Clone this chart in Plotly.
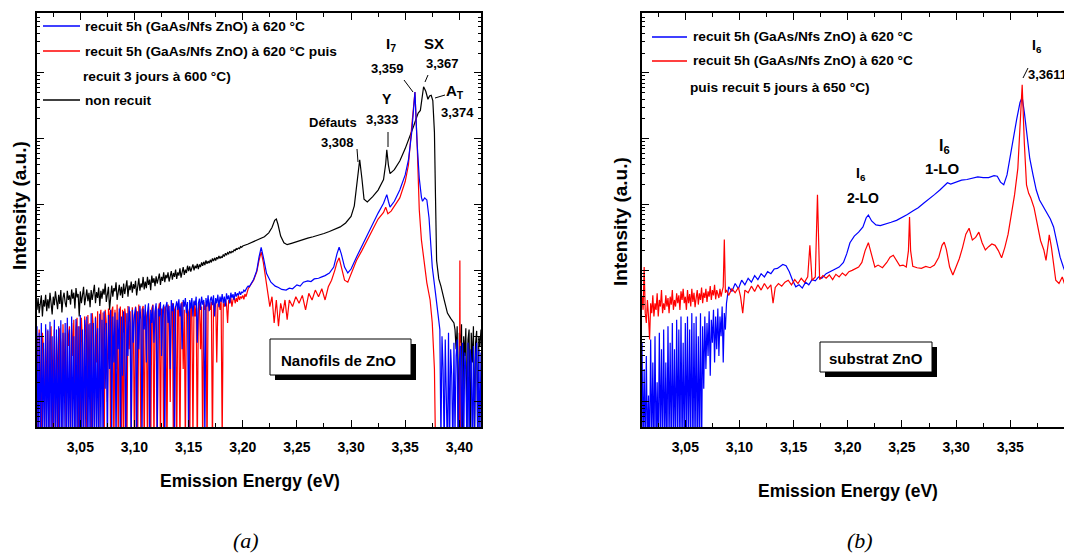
import numpy as np
import plotly.graph_objects as go
from plotly.subplots import make_subplots

# page offset: the browser places the plot 8 px from the top-left corner
OFF = 8
W, H = 1072 - OFF, 553 - OFF

# ---------------- Panel (a) : ZnO nanowires ----------------
# noisy low-energy part, sampled every 1 meV starting at 3.010 eV (values = log10 intensity)
a_noise_E0, a_noise_step = 3.010, 0.001
a_black_noise = [2.40, 2.58, 2.35, 2.52, 2.62, 2.30, 2.55, 2.45, 2.63, 2.38,
                 2.56, 2.42, 2.66, 2.50, 2.33, 2.60, 2.47, 2.68, 2.52, 2.41,
                 2.63, 2.49, 2.70, 2.36, 2.58, 2.66, 2.51, 2.44, 2.69, 2.55,
                 2.62, 2.48, 2.71, 2.57, 2.66, 2.42, 2.73, 2.59, 2.64, 2.30,
                 2.68, 2.50, 2.62, 2.75, 2.47, 2.60, 2.71, 2.53, 2.66, 2.44,
                 2.70, 2.55, 2.64, 2.78, 2.50, 2.67, 2.58, 2.74, 2.46, 2.69,
                 2.57, 2.72, 2.63, 2.80, 2.52, 2.69, 2.75, 2.40, 2.66, 2.77,
                 2.60, 2.73, 2.68, 2.82, 2.55, 2.71, 2.78, 2.62, 2.75, 2.58,
                 2.80, 2.64, 2.74, 2.85, 2.60, 2.77, 2.70, 2.83, 2.66, 2.79,
                 2.72, 2.84, 2.62, 2.78, 2.88, 2.69, 2.80, 2.74, 2.90, 2.71,
                 2.83, 2.73, 2.90, 2.78, 2.86, 2.70, 2.92, 2.81, 2.88, 2.76,
                 2.91, 2.80, 2.87, 2.95, 2.78, 2.90, 2.84, 2.97, 2.82, 2.93,
                 2.88, 2.97, 2.83, 2.94, 2.99, 2.86, 2.96, 2.90, 3.01, 2.87,
                 2.97, 2.92, 3.03, 2.89, 2.99, 3.05, 2.93, 3.01, 2.96, 3.07,
                 2.99, 3.06, 2.98, 3.04, 3.09, 3.00, 3.07, 3.03, 3.10, 3.02,
                 3.09, 3.05, 3.12, 3.07, 3.13, 3.08, 3.15, 3.10, 3.14, 3.11,
                 3.16, 3.12, 3.18, 3.14, 3.19, 3.15, 3.20, 3.17, 3.22, 3.18,
                 3.21, 3.19, 3.24, 3.21, 3.26, 3.23, 3.27, 3.25, 3.29, 3.26,
                 3.29, 3.28, 3.31, 3.30, 3.33, 3.32, 3.34, 3.33, 3.36, 3.35, 3.37]
a_blue_noise = [2.15, 0.3, 2.05, 0.2, 2.20, 0.5, 1.9, 0.2, 2.18, 0.3,
                2.10, 0.2, 2.22, 0.4, 2.0, 0.2, 2.25, 0.3, 2.1, 0.2,
                2.15, 0.3, 2.24, 0.2, 2.05, 0.5, 2.2, 0.2, 2.28, 0.3,
                2.1, 0.2, 2.3, 0.4, 2.0, 0.2, 2.26, 0.3, 2.15, 0.2,
                2.32, 0.3, 2.1, 0.2, 2.25, 0.6, 2.3, 0.2, 2.18, 0.3,
                2.35, 0.2, 2.2, 0.4, 2.28, 0.3, 2.12, 0.2, 2.34, 0.5,
                2.25, 0.3, 2.38, 1.2, 2.2, 0.2, 2.32, 1.5, 2.4, 0.4,
                2.3, 1.6, 2.36, 0.3, 2.25, 1.8, 2.42, 0.2, 2.3, 1.4,
                2.38, 2.0, 0.3, 2.35, 1.7, 2.45, 2.2, 0.4, 2.4, 1.9,
                2.32, 2.44, 0.2, 2.38, 1.8, 2.46, 2.25, 0.5, 2.42, 2.1,
                2.48, 1.6, 2.36, 2.5, 0.3, 2.4, 2.2, 2.47, 1.9, 2.38,
                2.5, 0.4, 2.42, 2.3, 2.52, 1.7, 2.4, 2.48, 0.3, 2.45,
                2.52, 2.2, 2.46, 1.5, 2.55, 2.38, 2.5, 0.3, 2.44, 2.53,
                2.4, 2.56, 2.3, 2.5, 1.8, 2.55, 2.45, 2.58, 2.35, 2.52,
                0.3, 2.55, 2.42, 2.58, 2.3, 2.54, 2.47, 2.6, 1.9, 2.5,
                2.57, 2.4, 2.6, 2.48, 2.55, 0.4, 2.58, 2.45, 2.62, 2.38,
                2.55, 2.6, 2.47, 2.62, 2.3, 2.58, 2.5, 2.63, 2.44, 2.6,
                2.52, 2.64, 2.5, 2.6, 2.45, 2.65, 2.56, 2.62, 2.5, 2.66,
                2.58, 2.64, 2.55, 2.67, 2.6, 2.65, 2.62, 2.68, 2.63, 2.67,
                2.66, 2.70, 2.68, 2.72, 2.74, 2.76]
a_red_noise = [2.0, 0.3, 2.1, 1.5, 0.2, 2.05, 1.8, 0.4, 2.12, 1.0,
               2.08, 0.3, 1.9, 2.15, 0.5, 1.7, 2.1, 0.2, 2.0, 1.6,
               0.3, 2.12, 1.9, 0.4, 2.18, 1.3, 2.05, 0.2, 2.2, 1.85,
               2.15, 0.3, 2.2, 1.7, 2.25, 0.4, 2.1, 2.28, 0.2, 2.15,
               0.3, 2.28, 1.9, 0.2, 2.3, 2.1, 0.4, 2.32, 1.2, 2.2,
               0.2, 2.35, 2.15, 0.5, 2.3, 1.6, 2.38, 0.3, 2.25, 2.4,
               1.4, 2.36, 0.2, 2.4, 2.2, 1.0, 2.42, 2.3, 0.3, 2.38,
               2.45, 0.2, 2.4, 1.5, 2.48, 0.3, 2.35, 2.45, 0.2, 2.4,
               0.3, 2.42, 2.3, 0.2, 2.46, 1.8, 2.38, 0.3, 2.44, 2.2,
               0.2, 2.45, 2.35, 0.4, 2.48, 2.2, 0.3, 2.4, 2.46, 0.2,
               2.4, 2.3, 0.3, 2.45, 2.2, 0.2, 2.42, 2.48, 0.3, 2.35,
               2.45, 0.2, 2.38, 2.5, 0.3, 2.42, 2.3, 0.2, 2.45, 2.4,
               0.3, 2.48, 2.35, 1.0, 2.45, 2.5, 0.2, 2.4, 2.46, 0.3,
               2.5, 2.38, 0.2, 2.45, 2.52, 1.5, 2.4, 0.3, 2.48, 2.42,
               2.35, 0.2, 2.5, 2.45, 0.4, 2.52, 2.3, 2.48, 0.2, 2.42,
               2.5, 1.8, 2.45, 0.3, 2.52, 2.4, 2.48, 0.2, 2.55, 2.45,
               2.4, 2.52, 0.3, 2.5, 2.45, 2.55, 1.6, 2.48, 2.52, 2.4,
               2.55, 0.4, 2.5, 2.45, 2.56, 2.48, 2.2, 2.55, 2.5, 2.58,
               2.45, 2.55, 2.6, 2.5, 2.58, 2.52, 2.62, 2.55, 2.6, 2.58,
               2.62, 2.56, 2.64, 2.6, 2.66]

# peaks region, read point by point (energy eV, log10 intensity)
a_black_E = [3.205, 3.210, 3.215, 3.220, 3.224, 3.227, 3.2295, 3.231, 3.2325, 3.235, 3.238, 3.241,
             3.245, 3.250, 3.255, 3.260, 3.265, 3.270, 3.275, 3.280, 3.285, 3.290, 3.295, 3.300,
             3.303, 3.306, 3.308, 3.310, 3.312, 3.315, 3.320, 3.325, 3.330, 3.332, 3.333, 3.3345,
             3.336, 3.340, 3.345, 3.350, 3.355, 3.358, 3.360, 3.362, 3.364, 3.3655, 3.367, 3.369,
             3.371, 3.3725, 3.374, 3.3755, 3.377, 3.378, 3.379, 3.381, 3.383, 3.386, 3.389, 3.392,
             3.395]
a_black_L = [3.40, 3.44, 3.47, 3.51, 3.57, 3.65, 3.76, 3.78, 3.70, 3.52, 3.42, 3.39,
             3.41, 3.44, 3.46, 3.49, 3.51, 3.53, 3.56, 3.59, 3.62, 3.66, 3.72, 3.82,
             3.98, 4.35, 4.68, 4.40, 4.08, 4.04, 4.12, 4.22, 4.38, 4.62, 4.83, 4.60,
             4.47, 4.53, 4.66, 4.85, 5.05, 5.20, 5.30, 5.39, 5.43, 5.62, 5.79, 5.72,
             5.60, 5.65, 5.66, 5.58, 5.10, 4.10, 3.15, 2.87, 2.76, 2.55, 2.35, 2.27,
             2.20]
a_blue_E = [3.206, 3.210, 3.213, 3.215, 3.217, 3.219, 3.222, 3.226, 3.230, 3.233, 3.236, 3.240,
            3.243, 3.246, 3.250, 3.253, 3.256, 3.260, 3.263, 3.266, 3.270, 3.273, 3.276, 3.280,
            3.284, 3.287, 3.289, 3.291, 3.294, 3.297, 3.300, 3.305, 3.310, 3.315, 3.320, 3.325,
            3.330, 3.333, 3.3345, 3.336, 3.340, 3.345, 3.350, 3.353, 3.356, 3.359, 3.361, 3.363,
            3.365, 3.366, 3.368, 3.370, 3.372, 3.3735, 3.375, 3.378, 3.381]
a_blue_L = [2.75, 2.86, 3.00, 3.20, 3.35, 3.20, 2.95, 2.82, 2.76, 2.74, 2.71, 2.70,
            2.73, 2.72, 2.78, 2.76, 2.82, 2.84, 2.83, 2.87, 2.88, 2.90, 2.92, 2.96,
            3.05, 3.25, 3.35, 3.25, 3.05, 2.96, 3.02, 3.20, 3.37, 3.55, 3.70, 3.87,
            4.02, 4.15, 4.05, 3.96, 4.05, 4.22, 4.45, 4.68, 5.09, 5.71, 4.93, 4.40,
            4.11, 4.05, 4.10, 4.07, 3.80, 3.37, 3.05, 2.65, 2.29]
a_red_E = [3.205, 3.210, 3.213, 3.215, 3.217, 3.219, 3.222, 3.225, 3.227, 3.229, 3.231, 3.233,
           3.235, 3.237, 3.239, 3.241, 3.243, 3.246, 3.249, 3.252, 3.255, 3.258, 3.261, 3.264,
           3.267, 3.270, 3.273, 3.276, 3.279, 3.282, 3.285, 3.287, 3.289, 3.291, 3.294, 3.297,
           3.300, 3.305, 3.310, 3.315, 3.320, 3.325, 3.330, 3.332, 3.334, 3.337, 3.340, 3.345,
           3.350, 3.353, 3.356, 3.359, 3.361, 3.363, 3.365, 3.367, 3.370, 3.373, 3.375, 3.377,
           3.378, 3.400, 3.4005, 3.401, 3.420]
a_red_L = [2.72, 2.85, 2.98, 3.15, 3.28, 3.12, 2.80, 2.45, 2.60, 2.20, 2.55, 2.15,
           2.50, 2.35, 2.55, 2.25, 2.55, 2.45, 2.60, 2.50, 2.62, 2.40, 2.65, 2.55,
           2.70, 2.60, 2.72, 2.55, 2.75, 2.85, 3.00, 3.12, 3.19, 3.05, 2.85, 2.82,
           2.95, 3.15, 3.30, 3.45, 3.62, 3.78, 3.88, 3.96, 3.86, 3.90, 3.98, 4.10,
           4.35, 4.60, 5.18, 5.71, 4.93, 3.92, 3.46, 3.20, 2.81, 2.55, 2.20, 1.50,
           0.30, 0.30, 3.15, 0.30, 0.30]

# noisy high-energy tails, every 1 meV
a_black_tail_E0 = 3.396
a_black_tail = [2.10, 1.80, 2.15, 0.40, 2.05, 1.90, 2.18, 0.30, 2.00, 1.70,
                2.12, 0.50, 1.95, 2.10, 0.30, 2.05, 1.60, 2.15, 0.40, 1.90,
                2.08, 0.30, 2.00, 1.85, 2.10]
a_blue_tail_E0 = 3.382
a_blue_tail = [2.10, 0.4, 2.0, 1.5, 0.3, 1.95, 1.2, 0.2, 2.05, 0.3,
               1.8, 1.4, 0.2, 1.9, 0.5, 1.7, 1.95, 0.3, 1.6, 1.85,
               0.4, 1.9, 0.2, 1.75, 1.5, 0.3, 1.9, 0.4, 1.8, 1.6,
               0.2, 1.85, 0.5, 1.7, 1.9, 0.3, 1.8, 0.4, 1.75]

# ---------------- Panel (b) : ZnO substrate ----------------
b_noise_E0, b_noise_step = 3.010, 0.001
b_blue_noise = [1.9, 0.3, 1.5, 0.2, 1.7, 0.3, 1.1, 0.2, 1.95, 0.3,
                1.6, 0.2, 2.0, 0.3, 1.3, 0.2, 2.05, 0.4, 1.8, 0.2,
                2.1, 0.3, 1.6, 0.2, 2.15, 0.4, 1.9, 0.2, 2.2, 0.3,
                1.8, 0.2, 2.25, 0.4, 2.1, 0.2, 2.3, 0.3, 1.9, 0.2,
                2.2, 0.3, 2.3, 0.2, 2.1, 0.4, 2.35, 0.2, 2.2, 0.3,
                2.3, 0.2, 2.0, 0.3, 2.35, 0.2, 2.15, 1.2, 2.3, 1.5,
                2.2, 1.7, 2.38, 1.4, 2.25, 1.9, 2.4, 1.6, 2.3, 1.8,
                2.42, 1.7, 2.3, 2.0, 2.45, 1.6, 2.35, 2.1, 2.5]
b_red_noise = [2.6, 2.4, 3.05, 2.35, 2.2, 2.55, 2.3, 1.95, 2.5, 2.35,
               2.62, 2.3, 2.5, 2.4, 2.65, 2.3, 2.55, 2.45, 2.7, 2.35,
               2.5, 2.4, 2.62, 2.45, 2.58, 2.35, 2.6, 2.48, 2.7, 2.4,
               2.55, 2.45, 2.65, 2.5, 2.62, 2.4, 2.68, 2.55, 2.72, 2.5,
               2.6, 2.4, 2.7, 2.5, 2.64, 2.45, 2.72, 2.52, 2.66, 2.44,
               2.58, 2.7, 2.48, 2.65, 2.55, 2.74, 2.5, 2.66, 2.58, 2.72,
               2.52, 2.68, 2.6, 2.76, 2.55, 2.7, 2.62, 2.78, 2.56, 2.7,
               2.64, 2.58, 2.72, 2.6, 2.68, 2.75, 3.47, 2.66, 2.7]

b_blue_E = [3.090, 3.093, 3.096, 3.099, 3.102, 3.105, 3.108, 3.111, 3.114, 3.117, 3.120, 3.123,
            3.126, 3.129, 3.132, 3.135, 3.138, 3.140, 3.143, 3.146, 3.149, 3.152, 3.155, 3.158,
            3.161, 3.164, 3.167, 3.170, 3.173, 3.176, 3.180, 3.184, 3.188, 3.192, 3.196, 3.199,
            3.202, 3.206, 3.210, 3.214, 3.217, 3.219, 3.222, 3.226, 3.230, 3.235, 3.240, 3.245,
            3.250, 3.255, 3.260, 3.265, 3.270, 3.275, 3.280, 3.285, 3.290, 3.292, 3.295, 3.300,
            3.305, 3.310, 3.315, 3.320, 3.325, 3.330, 3.335, 3.338, 3.341, 3.344, 3.347, 3.350,
            3.353, 3.356, 3.359, 3.361, 3.363, 3.365, 3.368, 3.371, 3.374, 3.377, 3.381, 3.384,
            3.387, 3.390, 3.393, 3.396, 3.399, 3.402, 3.405, 3.407]
b_blue_L = [2.75, 2.68, 2.80, 2.72, 2.85, 2.78, 2.88, 2.82, 2.92, 2.86, 2.95, 2.90,
            2.98, 2.95, 3.02, 3.03, 3.07, 3.09, 3.07, 2.98, 2.85, 2.75, 2.78, 2.73,
            2.82, 2.78, 2.86, 2.84, 2.90, 2.88, 2.95, 2.98, 3.02, 3.05, 3.12, 3.25,
            3.42, 3.52, 3.58, 3.66, 3.80, 3.84, 3.75, 3.69, 3.68, 3.70, 3.73, 3.76,
            3.80, 3.85, 3.90, 3.95, 4.02, 4.08, 4.15, 4.22, 4.30, 4.33, 4.31, 4.34,
            4.37, 4.38, 4.40, 4.42, 4.41, 4.41, 4.44, 4.43, 4.34, 4.30, 4.45, 4.75,
            5.05, 5.30, 5.55, 5.63, 5.40, 5.10, 4.70, 4.45, 4.22, 4.07, 3.95, 3.87,
            3.78, 3.66, 3.45, 3.20, 3.05, 2.93, 2.80, 2.70]
b_red_E = [3.090, 3.093, 3.096, 3.099, 3.101, 3.103, 3.105, 3.108, 3.111, 3.114, 3.117, 3.120,
           3.123, 3.126, 3.129, 3.131, 3.133, 3.136, 3.139, 3.142, 3.145, 3.148, 3.151, 3.154,
           3.157, 3.160, 3.163, 3.165, 3.167, 3.170, 3.172, 3.174, 3.177, 3.180, 3.183, 3.186,
           3.189, 3.192, 3.195, 3.198, 3.201, 3.204, 3.207, 3.210, 3.213, 3.216, 3.219, 3.222,
           3.225, 3.228, 3.232, 3.236, 3.239, 3.242, 3.245, 3.248, 3.251, 3.254, 3.256, 3.257,
           3.258, 3.260, 3.264, 3.268, 3.272, 3.276, 3.280, 3.284, 3.287, 3.289, 3.291, 3.294,
           3.297, 3.300, 3.303, 3.306, 3.309, 3.312, 3.315, 3.318, 3.321, 3.324, 3.327, 3.330,
           3.333, 3.336, 3.339, 3.342, 3.345, 3.348, 3.351, 3.354, 3.357, 3.359, 3.361, 3.363,
           3.365, 3.367, 3.369, 3.372, 3.375, 3.378, 3.381, 3.383, 3.385, 3.386, 3.388, 3.390,
           3.392, 3.395, 3.398, 3.401, 3.404, 3.407]
b_red_L = [2.62, 2.72, 2.66, 2.74, 2.60, 2.35, 2.70, 2.66, 2.76, 2.68, 2.78, 2.70,
           2.80, 2.72, 2.78, 2.50, 2.74, 2.80, 2.76, 2.82, 2.85, 2.78, 2.86, 2.80,
           2.88, 2.82, 2.90, 3.38, 2.85, 2.90, 4.15, 2.86, 2.92, 2.88, 2.93, 2.86,
           2.94, 2.90, 2.96, 2.92, 2.98, 3.00, 3.02, 3.05, 3.12, 3.30, 3.42, 3.25,
           3.05, 3.08, 3.04, 3.12, 3.20, 3.23, 3.15, 3.07, 3.08, 3.05, 3.30, 3.81,
           3.30, 3.06, 3.04, 3.03, 3.06, 3.04, 3.08, 3.20, 3.38, 3.43, 3.32, 3.05,
           2.93, 3.05, 3.18, 3.35, 3.55, 3.64, 3.46, 3.50, 3.58, 3.42, 3.31, 3.36,
           3.40, 3.38, 3.30, 3.19, 3.35, 3.55, 3.85, 4.15, 4.55, 5.10, 5.82, 4.93,
           4.30, 4.17, 4.10, 3.95, 3.72, 3.45, 3.31, 3.15, 3.40, 3.54, 3.35, 3.11,
           2.85, 2.80, 2.90, 2.75, 2.88, 2.78]

BLUE, RED, BLACK = "#0000ff", "#ff0000", "#000000"


def grid(e0, step, n):
    return np.round(e0 + step * np.arange(n), 4)


def series(parts):
    xs, ys = [], []
    for e, l in parts:
        xs.append(np.asarray(e, dtype=float))
        ys.append(np.asarray(l, dtype=float))
    return np.concatenate(xs), 10 ** np.concatenate(ys)


fig = make_subplots(rows=1, cols=2)
LW = 1.2

ax, ay = series([(grid(a_noise_E0, a_noise_step, len(a_black_noise)), a_black_noise),
                 (a_black_E, a_black_L),
                 (grid(a_black_tail_E0, 0.001, len(a_black_tail)), a_black_tail)])
fig.add_trace(go.Scatter(x=ax, y=ay, mode="lines", line=dict(color=BLACK, width=LW),
                         name="non recuit"), row=1, col=1)
ax, ay = series([(grid(a_noise_E0, a_noise_step, len(a_red_noise)), a_red_noise),
                 (a_red_E, a_red_L)])
fig.add_trace(go.Scatter(x=ax, y=ay, mode="lines", line=dict(color=RED, width=LW),
                         name="recuit 5h (GaAs/Nfs ZnO) à 620 °C puis recuit 3 jours à 600 °C)"), row=1, col=1)
ax, ay = series([(grid(a_noise_E0, a_noise_step, len(a_blue_noise)), a_blue_noise),
                 (a_blue_E, a_blue_L),
                 (grid(a_blue_tail_E0, 0.001, len(a_blue_tail)), a_blue_tail)])
fig.add_trace(go.Scatter(x=ax, y=ay, mode="lines", line=dict(color=BLUE, width=LW),
                         name="recuit 5h (GaAs/Nfs ZnO) à 620 °C"), row=1, col=1)

bx, by = series([(grid(b_noise_E0, b_noise_step, len(b_blue_noise)), b_blue_noise),
                 (b_blue_E, b_blue_L)])
fig.add_trace(go.Scatter(x=bx, y=by, mode="lines", line=dict(color=BLUE, width=LW),
                         name="recuit 5h (GaAs/Nfs ZnO) à 620 °C"), row=1, col=2)
bx, by = series([(grid(b_noise_E0, b_noise_step, len(b_red_noise)), b_red_noise),
                 (b_red_E, b_red_L)])
fig.add_trace(go.Scatter(x=bx, y=by, mode="lines", line=dict(color=RED, width=LW),
                         name="recuit 5h (GaAs/Nfs ZnO) à 620 °C puis recuit 5 jours à 650 °C)"), row=1, col=2)

FONT = "Liberation Sans, Arial, sans-serif"


def px(x):
    return (x - OFF) / W


def py(y):
    return 1 - (y - OFF) / H


xcommon = dict(tick0=3.0, dtick=0.05, tickformat=".2f", ticks="inside", ticklen=7,
               tickwidth=1.3, tickcolor="black", showline=True, linecolor="black", linewidth=1.5,
               showgrid=False, zeroline=False, mirror="ticks",
               minor=dict(ticks="inside", ticklen=4, dtick=0.025, tickcolor="black", showgrid=False),
               tickfont=dict(family=FONT, size=14, color="black", weight="bold"),
               ticklabelstandoff=6)
ycommon = dict(type="log", range=[0.62, 6.91], dtick=1, ticks="inside", ticklen=7,
               tickwidth=1.3, tickcolor="black", showticklabels=False, showline=True,
               linecolor="black", linewidth=1.5, showgrid=False, zeroline=False,
               minor=dict(ticks="inside", ticklen=3.5, tickcolor="black", showgrid=False))

fig.update_xaxes(**xcommon)
fig.update_yaxes(**ycommon)
fig.update_xaxes(range=[3.01, 3.42], domain=[px(37), px(481)], row=1, col=1)
fig.update_xaxes(range=[3.01, 3.407], domain=[px(642), 1.0], row=1, col=2)
fig.update_yaxes(domain=[py(427), py(13)], mirror="ticks", row=1, col=1)
fig.update_yaxes(domain=[py(427), py(13)], mirror=False, row=1, col=2)

shapes = []
annotations = []


def text(x, y, s, size=13, anchor="center", weight="bold", family=FONT, angle=0, italic=False):
    annotations.append(dict(x=px(x), y=py(y), xref="paper", yref="paper", text=s, showarrow=False,
                            xanchor=anchor, yanchor="middle", textangle=angle,
                            font=dict(family=family, size=size, color="black", weight=weight,
                                      style="italic" if italic else "normal")))


def seg(x0, y0, x1, y1, color="black", width=1):
    shapes.append(dict(type="line", xref="paper", yref="paper", x0=px(x0), y0=py(y0),
                       x1=px(x1), y1=py(y1), line=dict(color=color, width=width)))


def box(x0, y0, x1, y1, sh):
    shapes.append(dict(type="rect", xref="paper", yref="paper", x0=px(x0 + sh), y0=py(y1 + sh),
                       x1=px(x1 + sh), y1=py(y0 + sh), fillcolor="black", line=dict(width=0)))
    shapes.append(dict(type="rect", xref="paper", yref="paper", x0=px(x0), y0=py(y1),
                       x1=px(x1), y1=py(y0), fillcolor="white", line=dict(color="black", width=1)))


# legend (a)
LEG = 13.7
seg(43, 26, 80, 26, BLUE, 1.5); text(83, 26, "recuit 5h (GaAs/Nfs ZnO) à 620 °C", LEG, "left")
seg(43, 51, 80, 51, RED, 1.5); text(83, 51, "recuit 5h (GaAs/Nfs ZnO) à 620 °C puis", LEG, "left")
text(81, 76, "recuit 3 jours à 600 °C)", LEG, "left")
seg(43, 100, 80, 100, BLACK, 1.5); text(83, 101, "non recuit", LEG, "left")

# legend (b)
seg(652, 37, 687, 37, BLUE, 1.5); text(691, 37, "recuit 5h (GaAs/Nfs ZnO) à 620 °C", LEG, "left")
seg(652, 61, 687, 61, RED, 1.5); text(691, 61, "recuit 5h (GaAs/Nfs ZnO) à 620 °C", LEG, "left")
text(688, 87, "puis recuit 5 jours à 650 °C)", LEG, "left")

# peak labels (a)
text(333, 122, "Défauts", 13); text(337, 142, "3,308", 13); seg(357, 149, 358, 162)
text(387, 99, "Y", 14); text(382, 119, "3,333", 13); seg(388, 132, 388, 147)
text(391, 45, "I<sub>7</sub>", 15); text(387, 69, "3,359", 13); seg(404, 80, 413, 92)
text(434, 43, "SX", 15); text(442, 63, "3,367", 13); seg(428, 75, 425, 82)
text(455, 91, "A<sub>T</sub>", 15); text(457, 112, "3,374", 13); seg(435, 98, 445, 95)

# peak labels (b)
text(1037, 46, "I<sub>6</sub>", 14); text(1047, 74, "3,3611", 13); seg(1023, 78, 1028, 68)
text(944, 146, "I<sub>6</sub>", 16); text(942, 168, "1-LO", 15)
text(861, 174, "I<sub>6</sub>", 14); text(863, 198, "2-LO", 14)

# sample boxes
box(270, 339, 411, 375, 5); text(338, 360, "Nanofils de ZnO", 15)
box(820, 342, 932, 372, 5); text(876, 358, "substrat ZnO", 15)

# axis titles and panel letters
text(250, 481, "Emission Energy (eV)", 17.5)
text(848, 491, "Emission Energy (eV)", 17.5)
text(19, 206, "Intensity (a.u.)", 19, angle=-90)
text(620, 222, "Intensity (a.u.)", 19, angle=-90)
text(246, 540, "(a)", 22, weight="normal", family="Liberation Serif, Times New Roman, serif", italic=True)
text(860, 540, "(b)", 22, weight="normal", family="Liberation Serif, Times New Roman, serif", italic=True)

fig.update_layout(width=W, height=H, margin=dict(l=0, r=0, t=0, b=0),
                  paper_bgcolor="white", plot_bgcolor="white", showlegend=False,
                  separators=", ", shapes=shapes, annotations=annotations)

fig.write_html("out.html")
